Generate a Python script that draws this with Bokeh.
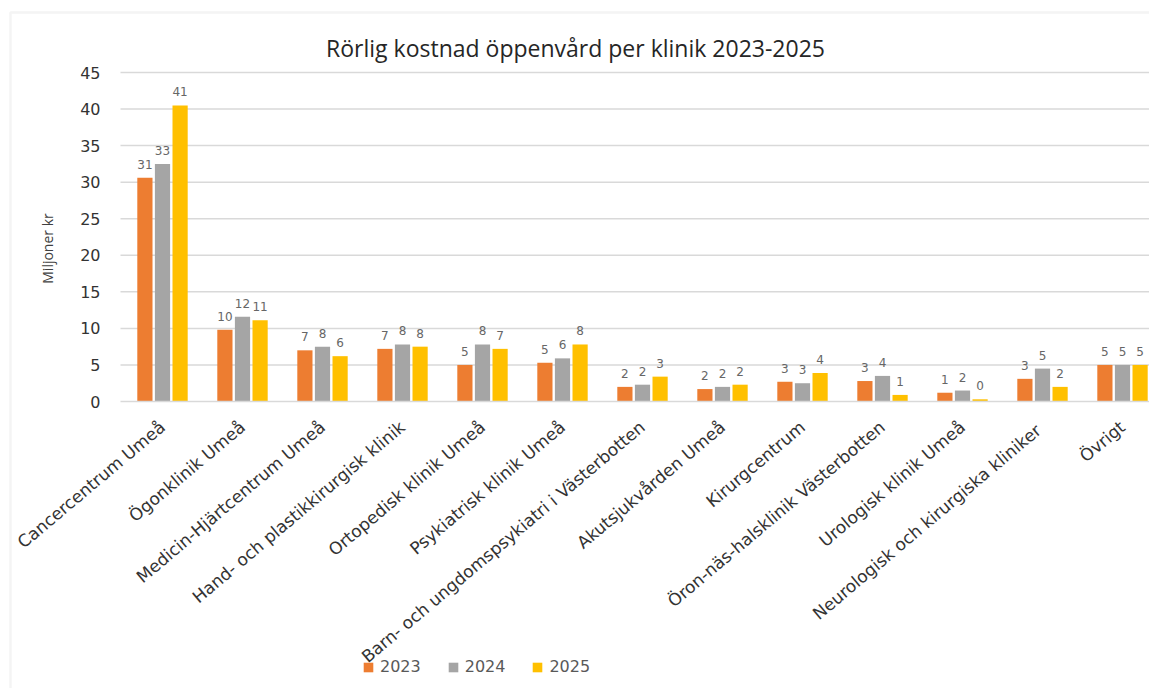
from bokeh.plotting import figure
from bokeh.models import (Range1d, FixedTicker, ColumnDataSource, LabelSet, Legend,
                          LegendItem, Label, BoxAnnotation)
from bokeh.core.properties import value
from bokeh.embed import file_html
from bokeh.resources import INLINE
import math

categories = ["Cancercentrum Umeå", "Ögonklinik Umeå", "Medicin-Hjärtcentrum Umeå",
              "Hand- och plastikkirurgisk klinik", "Ortopedisk klinik Umeå",
              "Psykiatrisk klinik Umeå", "Barn- och ungdomspsykiatri i Västerbotten",
              "Akutsjukvården Umeå", "Kirurgcentrum", "Öron-näs-halsklinik Västerbotten",
              "Urologisk klinik Umeå", "Neurologisk  och kirurgiska kliniker", "Övrigt"]
years = ["2023", "2024", "2025"]
v2023 = [30.6, 9.8, 7.0, 7.2, 5.0, 5.3, 2.0, 1.7, 2.7, 2.8, 1.2, 3.1, 5.0]
v2024 = [32.5, 11.6, 7.5, 7.8, 7.8, 5.9, 2.3, 2.0, 2.5, 3.5, 1.5, 4.5, 5.0]
v2025 = [40.5, 11.1, 6.2, 7.5, 7.2, 7.8, 3.4, 2.3, 3.9, 0.9, 0.3, 2.0, 5.0]
y_ticks = [0, 5, 10, 15, 20, 25, 30, 35, 40, 45]
title_text = "Rörlig kostnad öppenvård per klinik 2023-2025"
y_label = "Miljoner kr"

colors = ["#ED7D31", "#A5A5A5", "#FFC000"]
offsets = [-0.22, 0.0, 0.22]
bar_w = 0.19

# ---- geometry (pixels of the 1149x688 canvas) ----
W, H = 1149, 688
CAT0_PX = 162.0      # centre of first category
CAT_STEP = 80.0      # px per category
ZERO_PX = 401.0      # y pixel of value 0
YMAX = y_ticks[-1]
YMAX_PX = 72.0       # y pixel of top tick
PX_PER_Y = (ZERO_PX - YMAX_PX) / YMAX

def px2x(px):
    return (px - CAT0_PX) / CAT_STEP

def px2y(py):
    return (ZERO_PX - py) / PX_PER_Y

x_start, x_end = px2x(0), px2x(W)
y_start, y_end = px2y(H), px2y(0)
plot_left = -0.525   # left edge of the plot area

p = figure(width=W, height=H, output_backend="svg", toolbar_location=None,
           x_range=Range1d(x_start, x_end), y_range=Range1d(y_start, y_end),
           min_border=0, min_border_left=0, min_border_right=0,
           min_border_top=0, min_border_bottom=0)
p.outline_line_color = None
p.background_fill_color = "white"
p.border_fill_color = "white"

# chart-area border (light grey, left and top)
p.add_layout(BoxAnnotation(left=px2x(10), top=px2y(12), right=x_end + 5,
                           bottom=y_start - 5, fill_alpha=0,
                           line_color="#D9D9D9", line_width=2.5))

# horizontal gridlines
p.segment(x0=plot_left, x1=x_end + 1, y0=y_ticks[1:], y1=y_ticks[1:],
          line_color="#D9D9D9", line_width=1.5)

idx = list(range(len(categories)))
renderers = []
for yr, vals, col, off in zip(years, [v2023, v2024, v2025], colors, offsets):
    src = ColumnDataSource(dict(
        x=[i + off for i in idx], top=vals,
        lab=[str(int(math.floor(v + 0.5))) for v in vals]))
    r = p.vbar(x="x", top="top", width=bar_w, source=src, fill_color=col,
               line_color=None)
    renderers.append(r)
    p.add_layout(LabelSet(x="x", y="top", text="lab", source=src, y_offset=9,
                          text_align="center", text_baseline="bottom",
                          text_font=value("DejaVu Sans"), text_font_size=value("12px"),
                          text_color=value("#666666")))

# title
p.add_layout(Label(x=px2x(575), y=px2y(47), text=title_text, text_align="center",
                   text_baseline="alphabetic", text_font="Open Sans",
                   text_font_size="23px", text_color="#262626"))
# y axis title
p.add_layout(Label(x=px2x(47), y=px2y(248), text=y_label, angle=math.pi / 2,
                   text_align="center", text_baseline="middle", text_font="Open Sans",
                   text_font_size="14px", text_color="#404040"))

# axes
p.xaxis.fixed_location = 0
p.xaxis.bounds = (plot_left, x_end + 1)
p.xaxis.ticker = FixedTicker(ticks=idx)
p.xaxis.major_label_overrides = {i: c for i, c in enumerate(categories)}
p.xaxis.major_label_orientation = 0.70
p.xaxis.major_label_text_font = "DejaVu Sans"
p.xaxis.major_label_text_font_size = "17px"
p.xaxis.major_label_text_color = "#333333"
p.xaxis.major_tick_line_color = None
p.xaxis.minor_tick_line_color = None
p.xaxis.major_tick_out = 0
p.xaxis.major_tick_in = 0
p.xaxis.axis_line_color = "#D9D9D9"
p.xaxis.axis_line_width = 1.5
p.xaxis.major_label_standoff = 23

p.yaxis.fixed_location = plot_left
p.yaxis.bounds = (0, YMAX)
p.yaxis.ticker = FixedTicker(ticks=y_ticks)
p.yaxis.major_label_text_font = "DejaVu Sans"
p.yaxis.major_label_text_font_size = "16px"
p.yaxis.major_label_text_color = "#333333"
p.yaxis.major_tick_line_color = None
p.yaxis.minor_tick_line_color = None
p.yaxis.major_tick_out = 0
p.yaxis.major_tick_in = 0
p.yaxis.axis_line_color = None
p.yaxis.major_label_standoff = 20

p.xgrid.grid_line_color = None
p.ygrid.grid_line_color = None

legend = Legend(items=[LegendItem(label=yr, renderers=[r]) for yr, r in zip(years, renderers)],
                location=(362, 12), orientation="horizontal",
                glyph_width=12, glyph_height=12, label_standoff=6, spacing=26,
                padding=0, margin=0, border_line_color=None,
                background_fill_alpha=0, label_text_font="DejaVu Sans",
                label_text_font_size="16px", label_text_color="#595959")
p.add_layout(legend)

open("out.html", "w").write(file_html(p, INLINE))
